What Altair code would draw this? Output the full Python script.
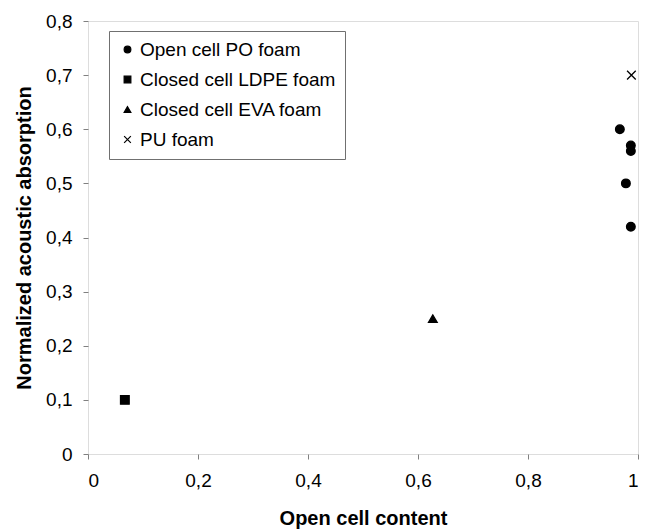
import altair as alt
import pandas as pd

series_names = ["Open cell PO foam", "Closed cell LDPE foam", "Closed cell EVA foam", "PU foam"]

po_x = [0.967, 0.987, 0.987, 0.978, 0.987]
po_y = [0.60, 0.57, 0.56, 0.50, 0.42]
ldpe_x = [0.067]
ldpe_y = [0.10]
eva_x = [0.627]
eva_y = [0.25]
pu_x = [0.988]
pu_y = [0.70]

rows = []
for name, xs, ys in [
    (series_names[0], po_x, po_y),
    (series_names[1], ldpe_x, ldpe_y),
    (series_names[2], eva_x, eva_y),
    (series_names[3], pu_x, pu_y),
]:
    for x, y in zip(xs, ys):
        rows.append({"series": name, "x": x, "y": y})
df = pd.DataFrame(rows)

FONT = "Liberation Sans"
label_expr = "replace(format(datum.value, '~g'), '.', ',')"
xshape = "M-1,-1L1,1M1,-1L-1,1"


def make_legend():
    return alt.Legend(title=None, orient="none", legendX=21, legendY=10,
                      strokeColor="#707070", padding=9, rowPadding=10,
                      labelFont=FONT, labelFontSize=19, labelColor="black",
                      labelLimit=0,
                      symbolSize=45, symbolStrokeWidth=1.2,
                      symbolOffset=0, labelOffset=3, fillColor="white")


chart = alt.Chart(df).mark_point(
    strokeWidth=1.3, opacity=1, size=75
).encode(
    x=alt.X("x:Q", title="Open cell content",
            scale=alt.Scale(domain=[0, 1], nice=False, zero=False),
            axis=alt.Axis(values=[0, 0.2, 0.4, 0.6, 0.8, 1], labelExpr=label_expr,
                          grid=False, domain=False, tickSize=5, tickColor="#808080",
                          labelFontSize=19, labelFont=FONT, labelColor="black",
                          labelPadding=12, titleFont=FONT, titleFontSize=20,
                          titleFontWeight="bold", titleColor="black", titlePadding=18)),
    y=alt.Y("y:Q", title="Normalized acoustic absorption",
            scale=alt.Scale(domain=[0, 0.8], nice=False),
            axis=alt.Axis(values=[0, 0.1, 0.2, 0.3, 0.4, 0.5, 0.6, 0.7, 0.8], labelExpr=label_expr,
                          grid=False, domain=False, tickSize=5, tickColor="#808080",
                          labelFontSize=19, labelFont=FONT, labelColor="black",
                          labelPadding=11, titleFont=FONT, titleFontSize=20,
                          titleFontWeight="bold", titleColor="black", titlePadding=11)),
    shape=alt.Shape("series:N",
                    scale=alt.Scale(domain=series_names,
                                    range=["circle", "square", "triangle-up", xshape]),
                    legend=make_legend()),
    fill=alt.Fill("series:N",
                  scale=alt.Scale(domain=series_names,
                                  range=["black", "black", "black", "transparent"]),
                  legend=make_legend()),
    stroke=alt.Stroke("series:N",
                      scale=alt.Scale(domain=series_names,
                                      range=["black", "black", "black", "black"]),
                      legend=make_legend()),
).properties(
    width=550, height=433,
    autosize="none",
    padding={"left": 88, "top": 21, "right": 9, "bottom": 78},
).configure_view(
    stroke="#666666", strokeWidth=1.5
).configure(background="white")

chart.save("out.html", embed_options={"renderer": "svg", "actions": False})
